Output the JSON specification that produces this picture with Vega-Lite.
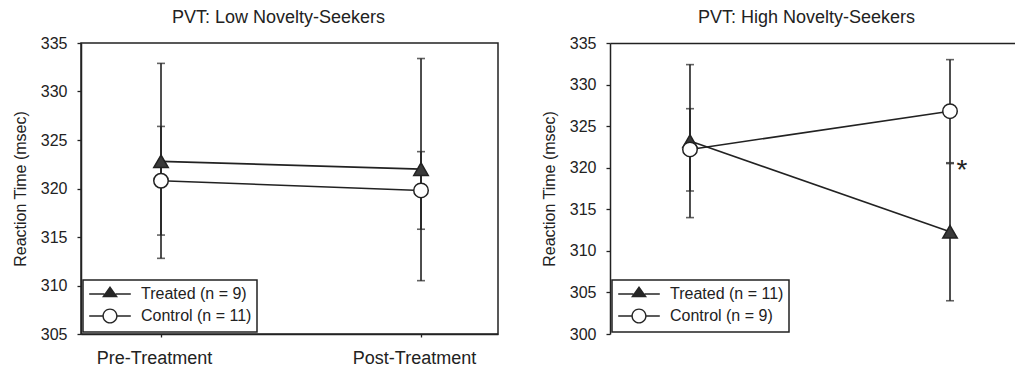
{
  "$schema": "https://vega.github.io/schema/vega-lite/v6.json",
  "padding": {"left": 11, "top": 8, "right": 0, "bottom": 0},
  "background": "white",
  "resolve": {"scale": {"shape": "independent", "fill": "independent"}, "legend": {"shape": "independent", "fill": "independent"}},
  "config": {
    "font": "Liberation Sans",
    "view": {"stroke": "#222", "strokeWidth": 1.5},
    "axis": {"grid": false, "domainColor": "#222", "domainWidth": 1.5, "tickColor": "#222", "tickWidth": 1.3, "labelColor": "#222", "titleColor": "#222", "labelFont": "Liberation Sans", "titleFont": "Liberation Sans", "titleFontWeight": "normal"},
    "legend": {"strokeWidth": 1.5, "labelFont": "Liberation Sans", "labelColor": "#222"},
    "title": {"fontSize": 18, "fontWeight": "normal", "color": "#222", "font": "Liberation Sans"},
    "concat": {"spacing": 42}
  },
  "datasets": {
    "low": [
      {"phase": "Pre-Treatment", "group": "Treated (n = 9)", "mean": 322.8, "lo": 312.8, "hi": 332.9},
      {"phase": "Post-Treatment", "group": "Treated (n = 9)", "mean": 322.0, "lo": 310.5, "hi": 333.4},
      {"phase": "Pre-Treatment", "group": "Control (n = 11)", "mean": 320.8, "lo": 315.2, "hi": 326.4},
      {"phase": "Post-Treatment", "group": "Control (n = 11)", "mean": 319.8, "lo": 315.8, "hi": 323.8}
    ],
    "high": [
      {"phase": "Pre-Treatment", "group": "Treated (n = 11)", "mean": 323.2, "lo": 314.0, "hi": 332.4},
      {"phase": "Post-Treatment", "group": "Treated (n = 11)", "mean": 312.3, "lo": 304.0, "hi": 320.5},
      {"phase": "Pre-Treatment", "group": "Control (n = 9)", "mean": 322.2, "lo": 317.2, "hi": 327.1},
      {"phase": "Post-Treatment", "group": "Control (n = 9)", "mean": 326.8, "lo": 320.6, "hi": 333.0}
    ],
    "stars": [
      {"phase": "Post-Treatment", "y": 320.5, "label": "*"}
    ]
  },
  "hconcat": [
    {
      "width": 417,
      "height": 291,
      "title": {"text": "PVT: Low Novelty-Seekers", "dx": -11, "offset": 8},
      "data": {"name": "low"},
      "encoding": {
        "x": {"field": "phase", "type": "ordinal",
          "scale": {"type": "point", "domain": ["Pre-Treatment", "Post-Treatment"], "padding": 0.3019, "align": 0.5096},
          "axis": {"title": null, "labelAngle": 0, "labelFontSize": 18, "tickSize": 3, "labelPadding": 12, "labelOffset": -7}},
        "y": {"field": "mean", "type": "quantitative", "scale": {"domain": [305, 335], "nice": false, "zero": false},
          "axis": {"title": "Reaction Time (msec)", "values": [305, 310, 315, 320, 325, 330, 335], "labelFontSize": 16, "titleFontSize": 16, "tickSize": 4, "labelPadding": 10, "titlePadding": 12}}
      },
      "layer": [
        {
          "mark": {"type": "line", "color": "#222", "strokeWidth": 1.6},
          "encoding": {"detail": {"field": "group"}}
        },
        {
          "mark": {"type": "errorbar", "color": "#222", "thickness": 1.6, "ticks": {"size": 8}},
          "encoding": {
            "y": {"field": "lo", "type": "quantitative", "title": "Reaction Time (msec)"},
            "y2": {"field": "hi"}
          }
        },
        {
          "mark": {"type": "point", "filled": true, "size": 210, "stroke": "#222", "strokeWidth": 1.5, "opacity": 1},
          "encoding": {
            "fill": {"condition": {"test": "indexof(datum.group, 'Treated') == 0", "value": "#3a3a3a"}, "value": "white"},
            "shape": {"condition": {"test": "indexof(datum.group, 'Treated') == 0", "value": "triangle-up"}, "value": "circle"}
          }
        },
        {
          "transform": [{"filter": "datum.phase == 'legend only'"}],
          "mark": {"type": "point", "filled": true, "opacity": 1},
          "encoding": {
            "shape": {"field": "group", "type": "nominal",
              "scale": {"domain": ["Treated (n = 9)", "Control (n = 11)"], "range": [
                "M-2.6,-0.1H-0.7V0.1H-2.6Z M0.7,-0.1H2.6V0.1H0.7Z M0,-1L1,0.4L-1,0.4Z",
                "M-2.6,-0.1H-0.94V0.1H-2.6Z M0.94,-0.1H2.6V0.1H0.94Z M0.95,0A0.95,0.95,0,1,1,-0.95,0A0.95,0.95,0,1,1,0.95,0Z M0.77,0A0.77,0.77,0,1,0,-0.77,0A0.77,0.77,0,1,0,0.77,0Z"]},
              "legend": {"title": null, "orient": "bottom-left", "offset": 2, "padding": 5, "rowPadding": 3,
                "symbolSize": 256, "symbolOffset": 13, "labelOffset": 22, "labelFontSize": 16,
                "strokeColor": "#222", "fillColor": "white"}},
            "fill": {"field": "group", "type": "nominal",
              "scale": {"domain": ["Treated (n = 9)", "Control (n = 11)"], "range": ["#262626", "#262626"]},
              "legend": {"title": null, "orient": "bottom-left", "offset": 2, "padding": 5, "rowPadding": 3,
                "symbolSize": 256, "symbolOffset": 13, "labelOffset": 22, "labelFontSize": 16,
                "strokeColor": "#222", "fillColor": "white"}}
          }
        }
      ]
    },
    {
      "width": 405,
      "height": 291,
      "view": {"stroke": null},
      "title": {"text": "PVT: High Novelty-Seekers", "dx": -6, "offset": 8},
      "data": {"name": "high"},
      "encoding": {
        "x": {"field": "phase", "type": "ordinal",
          "scale": {"type": "point", "domain": ["Pre-Treatment", "Post-Treatment"], "padding": 0.2788, "align": 0.5517},
          "axis": {"title": null, "labelAngle": 0, "labelFontSize": 18, "tickSize": 3, "labelPadding": 12, "labelOffset": -7}},
        "y": {"field": "mean", "type": "quantitative", "scale": {"domain": [300, 335], "nice": false, "zero": false},
          "axis": {"title": "Reaction Time (msec)", "values": [300, 305, 310, 315, 320, 325, 330, 335], "labelFontSize": 16, "titleFontSize": 16, "tickSize": 4, "labelPadding": 10, "titlePadding": 12}}
      },
      "layer": [
        {
          "mark": {"type": "line", "color": "#222", "strokeWidth": 1.6},
          "encoding": {
            "x": {"field": "phase", "type": "ordinal", "axis": {"orient": "top", "title": null, "labels": false, "ticks": false, "domain": true}},
            "detail": {"field": "group"}
          }
        },
        {
          "mark": {"type": "errorbar", "color": "#222", "thickness": 1.6, "ticks": {"size": 8}},
          "encoding": {
            "y": {"field": "lo", "type": "quantitative", "title": "Reaction Time (msec)"},
            "y2": {"field": "hi"}
          }
        },
        {
          "mark": {"type": "point", "filled": true, "size": 210, "stroke": "#222", "strokeWidth": 1.5, "opacity": 1},
          "encoding": {
            "fill": {"condition": {"test": "indexof(datum.group, 'Treated') == 0", "value": "#3a3a3a"}, "value": "white"},
            "shape": {"condition": {"test": "indexof(datum.group, 'Treated') == 0", "value": "triangle-up"}, "value": "circle"}
          }
        },
        {
          "transform": [{"filter": "datum.phase == 'legend only'"}],
          "mark": {"type": "point", "filled": true, "opacity": 1},
          "encoding": {
            "shape": {"field": "group", "type": "nominal",
              "scale": {"domain": ["Treated (n = 11)", "Control (n = 9)"], "range": [
                "M-2.6,-0.1H-0.7V0.1H-2.6Z M0.7,-0.1H2.6V0.1H0.7Z M0,-1L1,0.4L-1,0.4Z",
                "M-2.6,-0.1H-0.94V0.1H-2.6Z M0.94,-0.1H2.6V0.1H0.94Z M0.95,0A0.95,0.95,0,1,1,-0.95,0A0.95,0.95,0,1,1,0.95,0Z M0.77,0A0.77,0.77,0,1,0,-0.77,0A0.77,0.77,0,1,0,0.77,0Z"]},
              "legend": {"title": null, "orient": "bottom-left", "offset": 2, "padding": 5, "rowPadding": 3,
                "symbolSize": 256, "symbolOffset": 13, "labelOffset": 22, "labelFontSize": 16,
                "strokeColor": "#222", "fillColor": "white"}},
            "fill": {"field": "group", "type": "nominal",
              "scale": {"domain": ["Treated (n = 11)", "Control (n = 9)"], "range": ["#262626", "#262626"]},
              "legend": {"title": null, "orient": "bottom-left", "offset": 2, "padding": 5, "rowPadding": 3,
                "symbolSize": 256, "symbolOffset": 13, "labelOffset": 22, "labelFontSize": 16,
                "strokeColor": "#222", "fillColor": "white"}}
          }
        },
        {
          "data": {"name": "stars"},
          "mark": {"type": "text", "fontSize": 28, "color": "#222", "baseline": "alphabetic", "align": "center", "dx": 12, "dy": 15},
          "encoding": {
            "y": {"field": "y", "type": "quantitative", "title": "Reaction Time (msec)"},
            "text": {"field": "label"}
          }
        }
      ]
    }
  ]
}
